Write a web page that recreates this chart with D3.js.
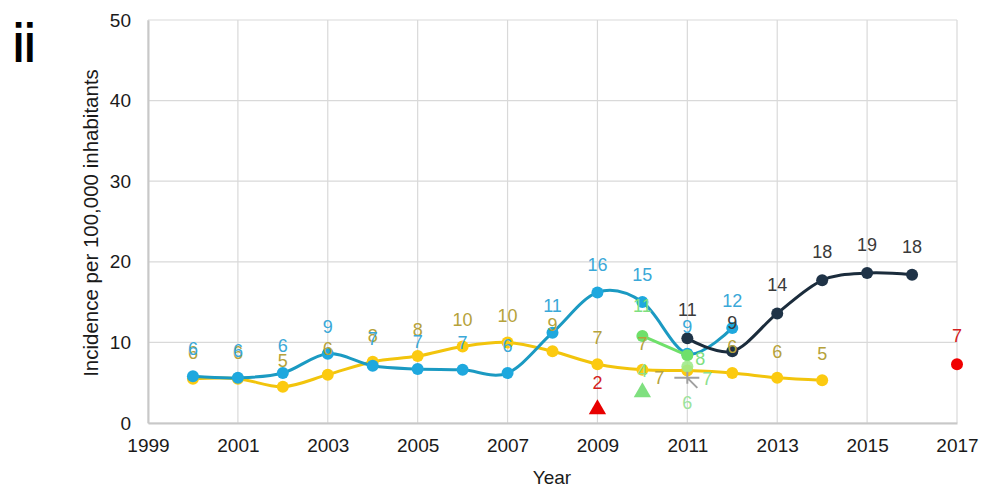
<!DOCTYPE html>
<html>
<head>
<meta charset="utf-8">
<script src="https://cdn.jsdelivr.net/npm/d3@7"></script>
<style>
  html, body { margin: 0; padding: 0; background: #fff; }
  svg { display: block; font-family: "Liberation Sans", Arial, sans-serif; }
</style>
</head>
<body>
<svg id="chart" width="983" height="488"></svg>
<script>
// ---- data ----
const xTicks = [1999, 2001, 2003, 2005, 2007, 2009, 2011, 2013, 2015, 2017];
const yTicks = [0, 10, 20, 30, 40, 50];

const blueYears = [2000, 2001, 2002, 2003, 2004, 2005, 2006, 2007, 2008, 2009, 2010, 2011, 2012];
const blueValues = [5.8, 5.6, 6.2, 8.6, 7.1, 6.7, 6.6, 6.2, 11.2, 16.2, 15.0, 8.6, 11.8];

const yellowYears = [2000, 2001, 2002, 2003, 2004, 2005, 2006, 2007, 2008, 2009, 2010, 2011, 2012, 2013, 2014];
const yellowValues = [5.5, 5.5, 4.5, 6.0, 7.6, 8.3, 9.5, 10.0, 8.9, 7.3, 6.6, 6.5, 6.2, 5.6, 5.3];

const navyYears = [2011, 2012, 2013, 2014, 2015, 2016];
const navyValues = [10.5, 8.9, 13.6, 17.7, 18.6, 18.4];

const greenYears = [2010, 2011];
const greenValues = [10.8, 8.4];

const lightGreenYears = [2011];
const lightGreenValues = [7.0];

const grayCrossYears = [2011];
const grayCrossValues = [5.6];

const greenTriangleYears = [2010];
const greenTriangleValues = [3.8];

const redTriangleYears = [2009];
const redTriangleValues = [1.7];

const redCircleYears = [2017];
const redCircleValues = [7.3];

// ---- layout ----
const svg = d3.select("#chart");
const x = d3.scaleLinear().domain([1999, 2017]).range([148, 957]);
const y = d3.scaleLinear().domain([0, 50]).range([423, 20]);

const fmt = v => String(Math.round(v));
const zip = (ys, vs) => ys.map((yr, i) => ({ year: yr, value: vs[i] }));

// gridlines
const grid = svg.append("g");
grid.selectAll(".vg").data(xTicks).join("line")
  .attr("x1", d => x(d)).attr("x2", d => x(d))
  .attr("y1", y(50)).attr("y2", y(0))
  .attr("stroke", "#d9d9d9").attr("stroke-width", 1.2);
grid.selectAll(".hg").data(yTicks).join("line")
  .attr("x1", x(1999)).attr("x2", x(2017))
  .attr("y1", d => y(d)).attr("y2", d => y(d))
  .attr("stroke", "#d9d9d9").attr("stroke-width", 1.2);

// axes
const xAxis = svg.append("g").attr("transform", `translate(0,${y(0)})`)
  .call(d3.axisBottom(x).tickValues(xTicks).tickFormat(d3.format("d")).tickSize(0).tickPadding(16));
const yAxis = svg.append("g").attr("transform", `translate(${x(1999)},0)`)
  .call(d3.axisLeft(y).tickValues(yTicks).tickSize(0).tickPadding(17));
[xAxis, yAxis].forEach(a => {
  a.select(".domain").attr("stroke", "#c8c8c8").attr("stroke-width", 2);
  a.selectAll("text").attr("font-size", 19).attr("fill", "#1a1a1a")
    .attr("font-family", "Liberation Sans, Arial, sans-serif");
});

svg.append("text").attr("x", 552).attr("y", 477)
  .attr("text-anchor", "middle").attr("dominant-baseline", "central")
  .attr("font-size", 19).attr("fill", "#1a1a1a").text("Year");

svg.append("text")
  .attr("transform", "translate(90,223) rotate(-90)")
  .attr("text-anchor", "middle").attr("dominant-baseline", "central")
  .attr("font-size", 20.5).attr("fill", "#1a1a1a")
  .text("Incidence per 100,000 inhabitants");

svg.append("text")
  .attr("transform", "translate(13,62) scale(0.72,1)")
  .attr("font-size", 56).attr("font-weight", "bold").attr("fill", "#000")
  .text("ii");

// ---- series ----
const smooth = d3.curveCatmullRom.alpha(0);
const lineGen = curve => d3.line().x(d => x(d.year)).y(d => y(d.value)).curve(curve);

const lineSeries = [
  { data: zip(yellowYears, yellowValues), line: "#f2c40c", dot: "#fcca10", label: "#b6a23a", curve: smooth,
    pos: d => d.year === 2011 ? [-28, 7] : [0, -26] },
  { data: zip(blueYears, blueValues), line: "#1b9ac2", dot: "#1ea8de", label: "#3aa8d8", curve: smooth,
    pos: d => [0, -27] },
  { data: zip(navyYears, navyValues), line: "#1b2c3c", dot: "#1f3347", label: "#3a3a3a", curve: smooth,
    pos: d => [0, -28] },
  { data: zip(greenYears, greenValues), line: "#6fe06a", dot: "#6fe06a", label: "#7fe07f", curve: d3.curveLinear,
    pos: d => d.year === 2011 ? [13, 4] : [0, -30] }
];

lineSeries.forEach(s => {
  svg.append("path").datum(s.data)
    .attr("d", lineGen(s.curve))
    .attr("fill", "none").attr("stroke", s.line).attr("stroke-width", 3);
  svg.append("g").selectAll("circle").data(s.data).join("circle")
    .attr("cx", d => x(d.year)).attr("cy", d => y(d.value)).attr("r", 6)
    .attr("fill", s.dot);
});

// single markers
const lightGreen = zip(lightGreenYears, lightGreenValues);
svg.append("g").selectAll("circle").data(lightGreen).join("circle")
  .attr("cx", d => x(d.year)).attr("cy", d => y(d.value)).attr("r", 6)
  .attr("fill", "#9fea8a").attr("opacity", 0.9);

const grayCross = zip(grayCrossYears, grayCrossValues);
svg.append("g").selectAll("path").data(grayCross).join("path")
  .attr("d", d => {
    const cx = x(d.year), cy = y(d.value);
    return `M${cx - 13},${cy}H${cx + 12}M${cx},${cy - 6}V${cy + 6}M${cx},${cy}L${cx + 10},${cy + 10}`;
  })
  .attr("stroke", "#a0a0a0").attr("stroke-width", 2).attr("fill", "none");

const tri = d3.symbol().type(d3.symbolTriangle).size(130);
const greenTri = zip(greenTriangleYears, greenTriangleValues);
svg.append("g").selectAll("path").data(greenTri).join("path")
  .attr("transform", d => `translate(${x(d.year)},${y(d.value)})`)
  .attr("d", tri).attr("fill", "#7fe07f");

const redTri = zip(redTriangleYears, redTriangleValues);
svg.append("g").selectAll("path").data(redTri).join("path")
  .attr("transform", d => `translate(${x(d.year)},${y(d.value)})`)
  .attr("d", tri).attr("fill", "#e80000");

const redDot = zip(redCircleYears, redCircleValues);
svg.append("g").selectAll("circle").data(redDot).join("circle")
  .attr("cx", d => x(d.year)).attr("cy", d => y(d.value)).attr("r", 6)
  .attr("fill", "#f00000");

// ---- value labels ----
function drawLabels(data, color, pos) {
  svg.append("g").selectAll("text").data(data).join("text")
    .attr("x", d => x(d.year) + pos(d)[0])
    .attr("y", d => y(d.value) + pos(d)[1])
    .attr("text-anchor", "middle").attr("dominant-baseline", "central")
    .attr("font-size", 18).attr("fill", color)
    .text(d => fmt(d.value));
}

lineSeries.forEach(s => drawLabels(s.data, s.label, s.pos));
drawLabels(lightGreen, "#8ce08c", () => [20, 12]);
drawLabels(grayCross, "#9be39b", () => [0, 25]);
drawLabels(greenTri, "#8ce08c", () => [0, -21]);
drawLabels(redTri, "#d42020", () => [0, -26]);
drawLabels(redDot, "#d42020", () => [0, -28]);
</script>
</body>
</html>
